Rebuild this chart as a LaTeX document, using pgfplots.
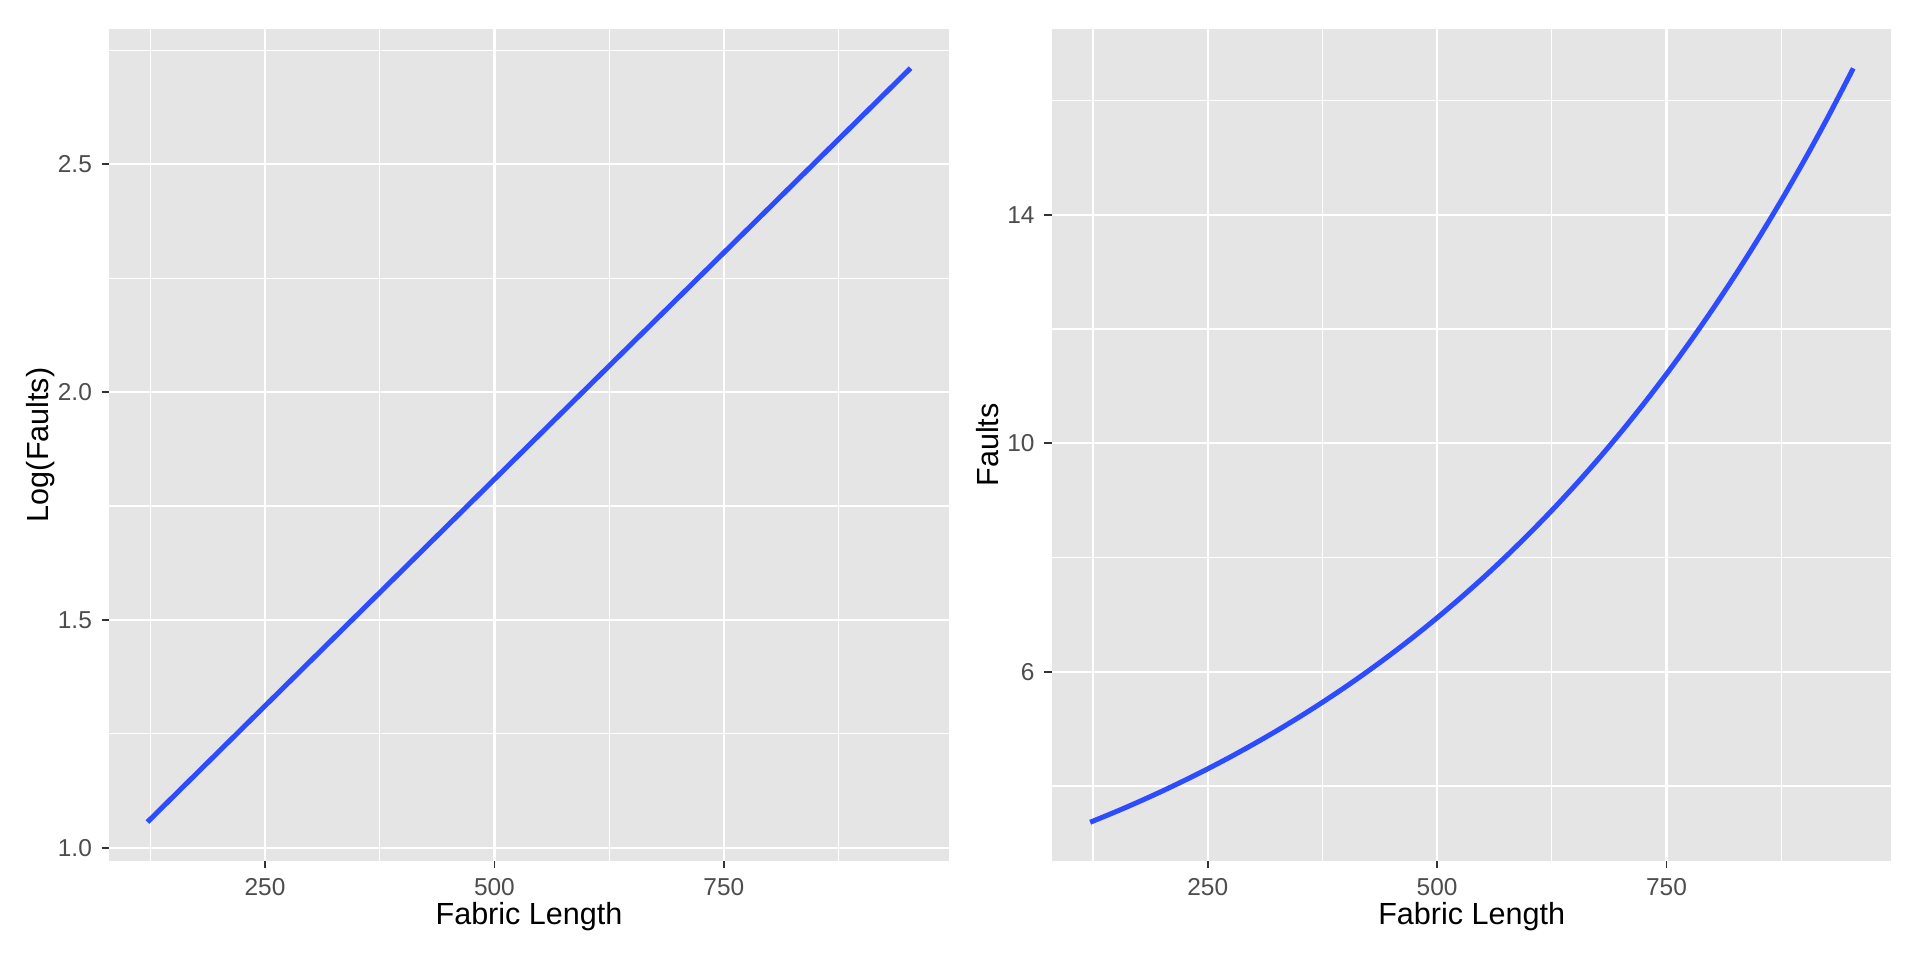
\documentclass[border=0pt]{standalone}
\usepackage{fontspec}
\setmainfont{Liberation Sans}
\usepackage{pgfplots}
\pgfplotsset{compat=1.18}
\definecolor{panelbg}{HTML}{E5E5E5}
\definecolor{fitblue}{HTML}{2D4BFF}
\definecolor{tickgrey}{HTML}{333333}
\definecolor{labgrey}{HTML}{4D4D4D}
\pgfplotsset{
  ggstyle/.style={
    scale only axis,
    width=302.2pt, height=299.4pt,
    anchor=south west,
    axis background/.style={fill=panelbg},
    axis line style={draw=none},
    xmin=80.3, xmax=995.1,
    xtick={250,500,750}, xticklabels={250,500,750},
    minor xtick={125,375,625,875},
    grid=both,
    major grid style={white, line width=0.8pt},
    minor grid style={white, line width=0.45pt},
    tick align=outside,
    xtick pos=bottom, ytick pos=left,
    major tick length=2.75pt,
    minor tick length=0pt,
    major tick style={tickgrey, line width=0.6pt},
    minor tick style={draw=none},
    tick label style={font=\fontsize{8.8}{10}\selectfont, text=labgrey},
    label style={font=\fontsize{11}{13}\selectfont, text=black},
    xlabel={Fabric Length},
    xlabel style={at={(axis description cs:0.5,-0.0773)}, anchor=base},
  }
}
\begin{document}
\begin{tikzpicture}
\path[use as bounding box] (0,0) rectangle (691.2pt,345.6pt);
% Left panel
\begin{axis}[ggstyle,
  at={(39.35pt,35.75pt)},
  ymin=0.9715, ymax=2.797,
  ytick={1,1.5,2,2.5}, yticklabels={1.0,1.5,2.0,2.5},
  minor ytick={1.25,1.75,2.25,2.75},
  ylabel={Log(Faults)},
  ylabel style={at={(axis description cs:-0.0814,0.5)}, anchor=center},
]
\addplot[fitblue, line width=1.8pt] coordinates {(121.9,1.0564) (953.5,2.711)};
\end{axis}
% Right panel
\begin{axis}[ggstyle,
  at={(378.72pt,35.75pt)},
  ymin=2.69, ymax=17.256,
  ytick={6,10,14}, yticklabels={6,10,14},
  minor ytick={4,8,12,16},
  ylabel={Faults},
  ylabel style={at={(axis description cs:-0.0763,0.5)}, anchor=center},
]
\addplot[fitblue, line width=1.8pt, smooth] coordinates {
(121.9,3.363) (150,3.549) (175,3.723) (200,3.906) (225,4.098) (250,4.299)
(275,4.510) (300,4.732) (325,4.964) (350,5.208) (375,5.464) (400,5.732)
(425,6.014) (450,6.309) (475,6.619) (500,6.944) (525,7.285) (550,7.642)
(575,8.018) (600,8.412) (625,8.824) (650,9.258) (675,9.712) (700,10.189)
(725,10.689) (750,11.214) (775,11.765) (800,12.343) (825,12.949) (850,13.585)
(875,14.252) (900,14.952) (925,15.686) (953.5,16.567)};
\end{axis}
\end{tikzpicture}
\end{document}
